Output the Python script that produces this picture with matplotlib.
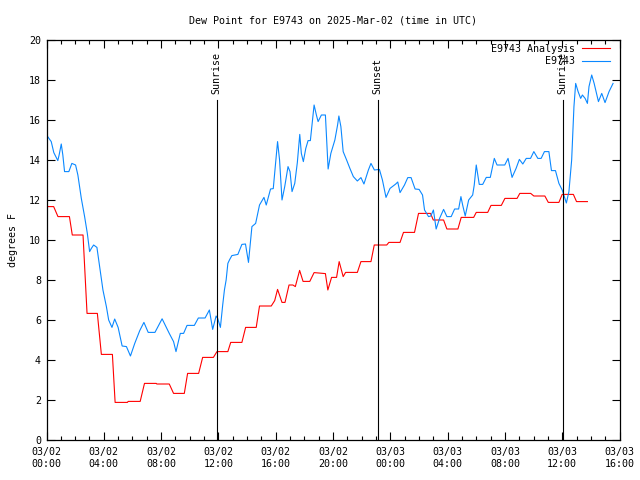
import matplotlib
matplotlib.use("Agg")
import matplotlib.pyplot as plt
import numpy as np

# hours since 03/02 00:00 UTC
red_hours = [0.0, 0.5, 0.8, 1.6, 1.8, 2.55, 2.83, 3.55, 3.83, 4.6, 4.79, 5.65, 5.7,
             6.54, 6.84, 7.66, 7.7, 8.57, 8.87, 9.62, 9.85, 10.62, 10.9, 11.65, 11.9,
             12.66, 12.86, 13.64, 13.9, 14.64, 14.87, 15.69, 15.93, 16.13, 16.44, 16.65,
             16.93, 17.2, 17.37, 17.67, 17.91, 18.38, 18.68, 19.47, 19.64, 19.9, 20.25,
             20.43, 20.71, 20.88, 21.7, 21.95, 22.65, 22.88, 23.75, 23.9, 24.68, 24.92,
             25.69, 25.97, 26.81, 27.0, 27.72, 27.95, 28.72, 28.95, 29.82, 30.0, 30.8,
             31.03, 31.75, 32.0, 32.85, 33.04, 33.8, 34.02, 34.79, 35.03, 35.77, 36.0,
             36.78, 37.0, 37.76]
red_vals = [11.67, 11.67, 11.17, 11.17, 10.25, 10.25, 6.33, 6.33, 4.28, 4.28, 1.88, 1.88, 1.93,
            1.93, 2.83, 2.83, 2.8, 2.8, 2.33, 2.33, 3.33, 3.33, 4.13, 4.13, 4.42,
            4.42, 4.88, 4.88, 5.63, 5.63, 6.7, 6.7, 6.97, 7.53, 6.88, 6.88,
            7.75, 7.75, 7.67, 8.48, 7.93, 7.93, 8.37, 8.32, 7.5, 8.13, 8.13,
            8.92, 8.17, 8.38, 8.38, 8.92, 8.92, 9.75, 9.75, 9.88, 9.88, 10.38,
            10.38, 11.33, 11.33, 11.0, 11.0, 10.55, 10.55, 11.13, 11.13, 11.38, 11.38,
            11.73, 11.73, 12.08, 12.08, 12.33, 12.33, 12.2, 12.2, 11.88, 11.88, 12.28,
            12.28, 11.92, 11.92]

blue_hours = [0.0, 0.33, 0.51, 0.79, 0.89, 1.03, 1.14, 1.26, 1.56, 1.77, 2.03, 2.19, 2.43,
              2.66, 2.85, 3.01, 3.13, 3.29, 3.52, 3.71, 3.94, 4.18, 4.34, 4.57, 4.76, 5.0,
              5.28, 5.58, 5.86, 6.16, 6.51, 6.8, 7.1, 7.57, 8.07, 8.57, 8.87, 9.04, 9.34,
              9.57, 9.81, 10.32, 10.6, 11.07, 11.37, 11.6, 11.84, 11.95, 12.14, 12.3,
              12.42, 12.54, 12.66, 12.77, 12.94, 13.36, 13.64, 13.89, 14.1, 14.34, 14.6,
              14.87, 15.18, 15.34, 15.64, 15.83, 15.99, 16.13, 16.27, 16.44, 16.63, 16.86,
              17.0, 17.14, 17.33, 17.51, 17.68, 17.79, 17.93, 18.1, 18.26, 18.42, 18.56,
              18.68, 18.84, 18.96, 19.19, 19.47, 19.66, 19.85, 20.13, 20.32, 20.41, 20.55,
              20.71, 20.95, 21.18, 21.42, 21.7, 21.95, 22.16, 22.47, 22.65, 22.89, 23.24,
              23.45, 23.59, 23.7, 23.98, 24.38, 24.52, 24.68, 24.99, 25.22, 25.45, 25.73,
              26.01, 26.25, 26.39, 26.67, 26.83, 27.01, 27.2, 27.44, 27.72, 27.95, 28.25,
              28.49, 28.77, 28.93, 29.05, 29.23, 29.47, 29.75, 29.86, 30.0, 30.21, 30.45,
              30.7, 30.98, 31.26, 31.45, 31.99, 32.22, 32.5, 32.78, 33.01, 33.25, 33.49,
              33.79, 34.02, 34.3, 34.53, 34.76, 35.07, 35.25, 35.53, 35.77, 36.0, 36.29,
              36.47, 36.66, 36.82, 36.94, 37.11, 37.29, 37.41, 37.6, 37.76, 37.87, 38.06,
              38.23, 38.53, 38.76, 38.99, 39.27, 39.55]
blue_vals = [15.25, 14.92, 14.37, 13.97, 14.28, 14.8, 14.25, 13.42, 13.42, 13.83, 13.75, 13.25, 12.08,
             11.17, 10.33, 9.42, 9.58, 9.75, 9.63, 8.67, 7.5, 6.67, 6.0, 5.63, 6.05, 5.63,
             4.7, 4.67, 4.2, 4.83, 5.47, 5.88, 5.38, 5.38, 6.06, 5.33, 4.92, 4.42, 5.33,
             5.33, 5.73, 5.73, 6.1, 6.1, 6.5, 5.53, 6.2, 6.08, 5.63, 6.75,
             7.5, 8.0, 8.83, 9.0, 9.22, 9.28, 9.78, 9.8, 8.88, 10.67, 10.83,
             11.75, 12.13, 11.75, 12.55, 12.57, 13.83, 14.92, 14.0, 12.0, 12.67, 13.67,
             13.42, 12.42, 12.83, 13.87, 15.28, 14.33, 13.92, 14.58, 14.97, 14.97, 15.92,
             16.75, 16.25, 15.92, 16.25, 16.25, 13.55, 14.33, 15.0, 15.75, 16.2, 15.67,
             14.42, 14.0, 13.58, 13.17, 12.95, 13.12, 12.8, 13.5, 13.83, 13.5, 13.53,
             13.0, 12.5, 12.13, 12.58, 12.8, 12.9, 12.37, 12.75, 13.12, 13.12, 12.55,
             12.53, 12.25, 11.5, 11.17, 11.2, 11.5, 10.55, 11.08, 11.53, 11.17, 11.17,
             11.55, 11.55, 12.17, 11.75, 11.2, 12.0, 12.25, 12.75, 13.75, 12.78, 12.78,
             13.13, 13.13, 14.08, 13.75, 13.75, 14.08, 13.13, 13.58, 14.03, 13.8, 14.08,
             14.08, 14.42, 14.08, 14.08, 14.42, 14.42, 13.47, 13.47, 12.83, 12.5, 11.85,
             12.42, 14.0, 16.67, 17.83, 17.42, 17.08, 17.25, 17.08, 16.83, 17.67, 18.25,
             17.83, 16.92, 17.33, 16.87, 17.42, 17.83]

sun_hours = [11.87, 23.13, 36.03]
sun_labels = ["Sunrise", "Sunset", "Sunrise"]

tick_hours = [0, 4, 8, 12, 16, 20, 24, 28, 32, 36, 40]
tick_labels = ["03/02\n00:00", "03/02\n04:00", "03/02\n08:00", "03/02\n12:00",
               "03/02\n16:00", "03/02\n20:00", "03/03\n00:00", "03/03\n04:00",
               "03/03\n08:00", "03/03\n12:00", "03/03\n16:00"]

FONT = "DejaVu Sans Mono"
FS = 7.2
plt.rcParams["font.family"] = FONT
plt.rcParams["font.size"] = FS

fig = plt.figure(figsize=(6.4, 4.8), dpi=100)
ax = fig.add_axes([46.5 / 640, 40 / 480, (619.5 - 46.5) / 640, 400 / 480])

ax.plot(red_hours, red_vals, color="#ff0000", lw=0.8, label="E9743 Analysis")
ax.plot(blue_hours, blue_vals, color="#0a88ff", lw=0.8, label="E9743")

for h, lab in zip(sun_hours, sun_labels):
    ax.plot([h, h], [0, 17], color="black", lw=0.8)
    ax.text(h, 17.3, lab, rotation=90, ha="center", va="bottom", fontsize=FS)

ax.set_xlim(0, 40)
ax.set_ylim(0, 20)
ax.set_xticks(tick_hours)
ax.set_xticklabels(tick_labels)
ax.set_xticks(np.arange(0, 41, 1), minor=True)
ax.set_yticks(np.arange(0, 21, 2))
ax.tick_params(which="both", direction="in", top=True, right=True, width=0.8)
ax.tick_params(which="major", length=6, pad=5)
ax.tick_params(which="minor", length=3)
ax.tick_params(axis="y", pad=4)
for s in ax.spines.values():
    s.set_linewidth(0.9)

ax.set_ylabel("degrees F", labelpad=8)
ax.set_title("Dew Point for E9743 on 2025-Mar-02 (time in UTC)", pad=12, fontsize=FS)

leg = ax.legend(loc="upper right", bbox_to_anchor=(0.9904, 1.0), frameon=False,
                markerfirst=False, handlelength=2.8, handletextpad=0.7,
                borderaxespad=0.0, labelspacing=0.25, fontsize=FS)
for col in leg._legend_handle_box.get_children():
    col.align = "right"

fig.savefig("out.png", dpi=100)
